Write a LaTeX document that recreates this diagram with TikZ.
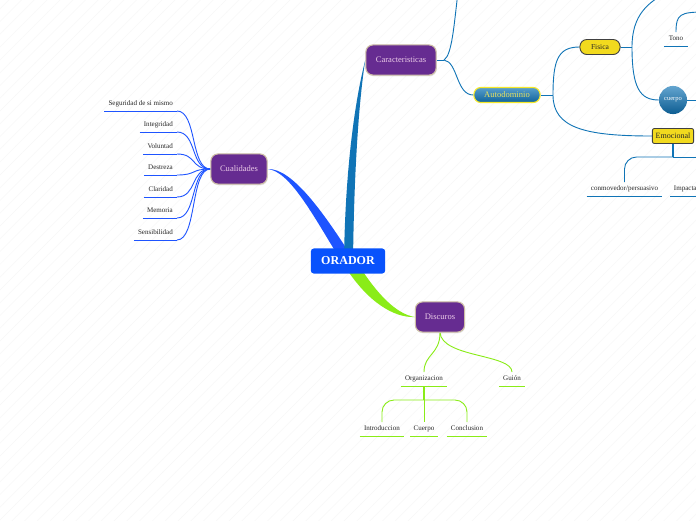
\documentclass[tikz,border=0pt]{standalone}
\usepackage{fontspec}
\setmainfont{Liberation Serif}
\usetikzlibrary{positioning, calc, shadows, backgrounds, patterns.meta}

\definecolor{oradorblue}{RGB}{8,82,252}
\definecolor{cualblue}{RGB}{30,84,255}
\definecolor{caracteal}{RGB}{16,116,182}
\definecolor{discgreen}{RGB}{138,236,24}
\definecolor{boxpurple}{RGB}{102,44,145}
\definecolor{boxrim}{RGB}{205,190,165}
\definecolor{boxtext}{RGB}{236,204,232}
\definecolor{pillyellow}{RGB}{242,218,30}
\definecolor{pillrim}{RGB}{246,232,40}
\definecolor{autotext}{RGB}{232,226,96}

\tikzset{
    root_box/.style={
        rectangle, rounded corners=3pt, fill=oradorblue,
        minimum width=74pt, minimum height=25pt,
        text=white, font=\fontsize{12}{14}\selectfont\bfseries
    },
    topic_box/.style={
        rectangle, rounded corners=7pt, fill=boxpurple, draw=boxrim, line width=1.1pt,
        minimum height=30pt, text=boxtext, font=\fontsize{8.5}{10}\selectfont,
        drop shadow={opacity=0.18, shadow xshift=0.6pt, shadow yshift=-1.2pt}
    },
    pill_blue/.style={
        rectangle, rounded corners=7pt, draw=pillrim, line width=1.1pt,
        top color=caracteal!70!white, bottom color=caracteal!85!black,
        minimum width=66pt, minimum height=15pt, inner sep=1pt,
        text=autotext, font=\fontsize{8.5}{10}\selectfont
    },
    pill_yellow/.style={
        rectangle, rounded corners=7pt, draw=black!75, line width=0.9pt, fill=pillyellow,
        minimum width=40pt, minimum height=15pt, inner sep=1pt,
        text=black!85, font=\fontsize{7.5}{9}\selectfont
    },
    box_yellow/.style={
        rectangle, rounded corners=2pt, draw=black!75, line width=0.9pt, fill=pillyellow,
        minimum width=41pt, minimum height=15pt, inner sep=1pt,
        text=black!85, font=\fontsize{8}{9}\selectfont
    },
    ball_blue/.style={
        circle, minimum size=28pt, inner sep=0pt,
        top color=caracteal!65!white, bottom color=caracteal!80!black,
        text=white, font=\fontsize{6.5}{8}\selectfont
    },
    leaf_cual/.style={
        inner xsep=4pt, inner ysep=3.5pt, text height=5pt, text depth=1.5pt,
        text=black!85, font=\fontsize{7}{8}\selectfont,
        append after command={(\tikzlastnode.south west) edge[draw=cualblue, line width=0.9pt] (\tikzlastnode.south east)}
    },
    leaf_cara/.style={
        inner xsep=3pt, inner ysep=3.5pt, text height=5pt, text depth=1.5pt,
        text=black!85, font=\fontsize{7}{8}\selectfont,
        append after command={(\tikzlastnode.south west) edge[draw=caracteal, line width=0.9pt] (\tikzlastnode.south east)}
    },
    leaf_disc/.style={
        inner xsep=3pt, inner ysep=3.5pt, text height=5pt, text depth=1.5pt,
        text=black!85, font=\fontsize{7}{8}\selectfont,
        append after command={(\tikzlastnode.south west) edge[draw=discgreen, line width=0.9pt] (\tikzlastnode.south east)}
    },
    link_cual/.style={draw=cualblue, line width=0.9pt},
    link_cara/.style={draw=caracteal, line width=0.9pt},
    link_disc/.style={draw=discgreen, line width=0.9pt},
    trunk_cual/.style={fill=cualblue},
    trunk_cara/.style={fill=caracteal},
    trunk_disc/.style={fill=discgreen}
}

\begin{document}
\begin{tikzpicture}[x=0.35mm, y=-0.35mm]

    \useasboundingbox (0,0) rectangle (696,520);

    % --- Central topic & main branches ---
    \node[root_box] (orador) at (348,261) {ORADOR};
    \node[topic_box, minimum width=70pt] (cara) at (401,60) {Caracteristicas};
    \node[topic_box, minimum width=56pt] (cual) at (239,169) {Cualidades};
    \node[topic_box, minimum width=49pt] (disc) at (440,317) {Discuros};

    % --- Caracteristicas sub-tree ---
    \node[pill_blue] (auto) at (507,95) {Autodominio};
    \node[pill_yellow] (fis) at (600,47) {Fisica};
    \node[box_yellow] (emo) at (673,136) {Emocional};
    \node[ball_blue] (cuerpo) at (673,100) {cuerpo};
    \node[leaf_cara, anchor=south, minimum width=24pt] (tono) at (676,46) {Tono};
    \node[leaf_cara, anchor=south, minimum width=75pt] (conm) at (624.5,196) {conmovedor/persuasivo};
    \node[leaf_cara, anchor=south west, minimum width=30pt] (impa) at (670,196) {Impacta};

    \coordinate (cara_hub) at (444,60);
    \coordinate (cara_top) at (458,-8);
    \coordinate (auto_hub) at (553,95);
    \coordinate (fis_hub) at (632,47);
    \coordinate (fis_top) at (668,-8);
    \coordinate (tono_src) at (706,12);
    \coordinate (cuerpo_out) at (706,100);
    \coordinate (emo_hub) at (673,157);
    \coordinate (impa_out) at (706,157);

    % --- Cualidades leaves ---
    \node[leaf_cual, anchor=south east] (segur) at (177,111) {Seguridad de si mismo};
    \node[leaf_cual, anchor=south east] (integ) at (177,132) {Integridad};
    \node[leaf_cual, anchor=south east] (volun) at (177,154) {Voluntad};
    \node[leaf_cual, anchor=south east] (destr) at (177,175) {Destreza};
    \node[leaf_cual, anchor=south east] (clar) at (177,197) {Claridad};
    \node[leaf_cual, anchor=south east] (memo) at (177,218) {Memoria};
    \node[leaf_cual, anchor=south east] (sensi) at (177,240) {Sensibilidad};

    % --- Discuros leaves ---
    \node[leaf_disc, anchor=south, minimum width=46pt] (organ) at (424,386) {Organizacion};
    \node[leaf_disc, anchor=south, minimum width=26pt] (guion) at (512,386) {Guión};
    \node[leaf_disc, anchor=south, minimum width=44pt] (intro) at (382,436) {Introduccion};
    \node[leaf_disc, anchor=south, minimum width=26pt] (cuerpod) at (424,436) {Cuerpo};
    \node[leaf_disc, anchor=south, minimum width=40pt] (concl) at (467,436) {Conclusion};
    \coordinate (organ_hub) at (424,400);

    \begin{scope}[on background layer]
        % canvas
        \fill[white] (0,0) rectangle (696,520);
        \fill[pattern={Lines[angle=45, distance=9pt, line width=0.5pt]}, pattern color=black!3] (0,0) rectangle (696,520);

        % tapered trunks out of ORADOR
        \fill[trunk_cual] (cual.east) .. controls (290,171) and (314,217) .. (340,259) -- (350,254) .. controls (323,212) and (292,168) .. (cual.east) -- cycle;
        \fill[trunk_cara] (cara.west) .. controls (355,100) and (345,170) .. (344,262) -- (353,262) .. controls (354,170) and (359,100) .. (cara.west) -- cycle;
        \fill[trunk_disc] (346,268) .. controls (368,302) and (394,318) .. (disc.west) .. controls (396,314) and (377,294) .. (358,264) -- cycle;

        % Caracteristicas links
        \draw[link_cara] (cara.east) -- (cara_hub);
        \draw[link_cara] (cara_hub) .. controls (452,55) and (454,25) .. (cara_top);
        \draw[link_cara] (cara_hub) .. controls (458,62) and (456,95) .. (auto.west);
        \draw[link_cara] (auto.east) -- (auto_hub);
        \draw[link_cara] (auto_hub) .. controls (553,60) and (558,47) .. (fis.west);
        \draw[link_cara] (auto_hub) .. controls (553,128) and (585,136) .. (emo.west);
        \draw[link_cara] (fis.east) -- (fis_hub);
        \draw[link_cara] (fis_hub) .. controls (632,15) and (648,2) .. (fis_top);
        \draw[link_cara] (fis_hub) .. controls (632,88) and (640,100) .. (cuerpo.west);
        \draw[link_cara] (cuerpo.east) -- (cuerpo_out);
        \draw[link_cara] (tono_src) .. controls (680,12) and (676,14) .. (tono.north);
        \draw[link_cara, line width=1.5pt] (emo.south) -- (emo_hub);
        \draw[link_cara, rounded corners=12pt] (emo_hub) -| (conm.north);
        \draw[link_cara] (emo_hub) -- (impa_out);

        % Cualidades links
        \draw[link_cual] (cual.west) .. controls +(-20,0) and +(20,0) .. (segur.south east);
        \draw[link_cual] (cual.west) .. controls +(-20,0) and +(20,0) .. (integ.south east);
        \draw[link_cual] (cual.west) .. controls +(-20,0) and +(20,0) .. (volun.south east);
        \draw[link_cual] (cual.west) .. controls +(-20,0) and +(20,0) .. (destr.south east);
        \draw[link_cual] (cual.west) .. controls +(-20,0) and +(20,0) .. (clar.south east);
        \draw[link_cual] (cual.west) .. controls +(-20,0) and +(20,0) .. (memo.south east);
        \draw[link_cual] (cual.west) .. controls +(-20,0) and +(20,0) .. (sensi.south east);

        % Discuros links
        \draw[link_disc] (disc.south) .. controls +(0,22) and +(0,-18) .. (organ.north);
        \draw[link_disc] (disc.south) .. controls +(2,25) and +(0,-18) .. (guion.north);
        \draw[link_disc, line width=1.8pt] (organ.south) -- (organ_hub);
        \draw[link_disc, rounded corners=12pt] (organ_hub) -| (intro.north);
        \draw[link_disc, rounded corners=12pt] (organ_hub) -| (concl.north);
        \draw[link_disc] (organ_hub) -- (cuerpod.north);
    \end{scope}

\end{tikzpicture}
\end{document}
